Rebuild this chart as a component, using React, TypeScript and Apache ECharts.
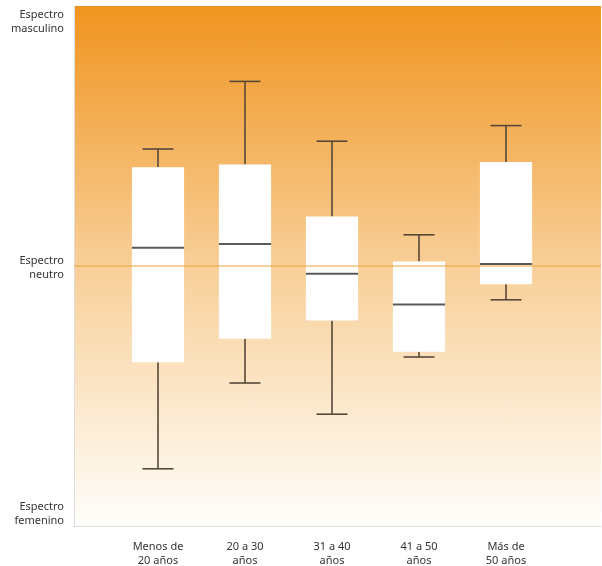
import React, { useEffect, useRef } from "react";
import * as echarts from "echarts";

const categories = ["Menos de\n20 años", "20 a 30\naños", "31 a 40\naños", "41 a 50\naños", "Más de\n50 años"];
// [min, Q1, median, Q3, max] on a -1 (femenino) .. 1 (masculino) scale
const lowValues = [-0.78, -0.45, -0.57, -0.35, -0.13];
const q1Values = [-0.37, -0.28, -0.21, -0.33, -0.07];
const medianValues = [0.07, 0.085, -0.03, -0.148, 0.008];
const q3Values = [0.38, 0.39, 0.19, 0.017, 0.4];
const highValues = [0.45, 0.71, 0.48, 0.12, 0.54];
const spectrumLabels: Record<string, string> = {
  "1": "Espectro\nmasculino",
  "0": "Espectro\nneutro",
  "-1": "Espectro\nfemenino",
};

export default function App() {
  const ref = useRef<HTMLDivElement>(null);
  useEffect(() => {
    if (!ref.current) return;
    const chart = echarts.init(ref.current, undefined, { renderer: "svg" });
    const data = categories.map((_, i) => [i, lowValues[i], q1Values[i], medianValues[i], q3Values[i], highValues[i]]);
    const font = "'Noto Sans', Lato, sans-serif";
    chart.setOption({
      animation: false,
      grid: [
        {
          left: 74, top: 6, right: 1, bottom: 40, show: true, borderWidth: 0,
          backgroundColor: new echarts.graphic.LinearGradient(0, 0, 0, 1, [
            { offset: 0, color: "#f0941f" },
            { offset: 0.5, color: "#f8cf98" },
            { offset: 1, color: "#fffefb" },
          ]),
        },
        { left: 114.5, top: 6, right: 52.5, bottom: 40 },
      ],
      xAxis: [
        {
          gridIndex: 0, type: "value", min: 0, max: 1,
          axisLine: { show: true, onZero: false, lineStyle: { color: "#dddddd", width: 1 } },
          axisTick: { show: false }, axisLabel: { show: false }, splitLine: { show: false },
        },
        {
          gridIndex: 1, type: "category", data: categories,
          axisLine: { show: false }, axisTick: { show: false }, splitLine: { show: false },
          axisLabel: { margin: 12, color: "#333333", fontSize: 11, lineHeight: 14, fontFamily: font },
        },
      ],
      yAxis: [
        {
          gridIndex: 0, type: "value", min: -1, max: 1, interval: 1,
          axisLine: { show: true, onZero: false, lineStyle: { color: "#dddddd", width: 1 } },
          axisTick: { show: false }, splitLine: { show: false },
          axisLabel: {
            formatter: (v: number) => spectrumLabels[String(v)] || "",
            color: "#333333", fontSize: 11, lineHeight: 14, fontFamily: font, margin: 10,
            verticalAlignMaxLabel: "top", verticalAlignMinLabel: "bottom",
          },
        },
        { gridIndex: 1, type: "value", min: -1, max: 1, show: false },
      ],
      series: [
        {
          type: "line", xAxisIndex: 0, yAxisIndex: 0, data: [[0, 0], [1, 0]],
          symbol: "none", silent: true,
          lineStyle: { color: "#f0a03a", width: 1 },
        },
        {
          type: "custom", xAxisIndex: 1, yAxisIndex: 1, data,
          encode: { x: 0, y: [1, 2, 3, 4, 5] },
          renderItem: (params: any, api: any) => {
            const idx = api.value(0);
            const pLow = api.coord([idx, api.value(1)]);
            const pQ1 = api.coord([idx, api.value(2)]);
            const pMed = api.coord([idx, api.value(3)]);
            const pQ3 = api.coord([idx, api.value(4)]);
            const pHigh = api.coord([idx, api.value(5)]);
            const band = api.size([1, 0])[0];
            const bw = band * 0.6;
            const cw = 31;
            const x = pMed[0];
            const ws = { stroke: "#574838", lineWidth: 1.6 };
            return {
              type: "group",
              children: [
                { type: "line", shape: { x1: x, y1: pHigh[1], x2: x, y2: pQ3[1] }, style: ws },
                { type: "line", shape: { x1: x - cw / 2, y1: pHigh[1], x2: x + cw / 2, y2: pHigh[1] }, style: ws },
                { type: "line", shape: { x1: x, y1: pLow[1], x2: x, y2: pQ1[1] }, style: ws },
                { type: "line", shape: { x1: x - cw / 2, y1: pLow[1], x2: x + cw / 2, y2: pLow[1] }, style: ws },
                { type: "rect", shape: { x: x - bw / 2, y: pQ3[1], width: bw, height: pQ1[1] - pQ3[1] }, style: { fill: "#ffffff" } },
                { type: "line", shape: { x1: x - bw / 2, y1: pMed[1], x2: x + bw / 2, y2: pMed[1] }, style: { stroke: "#5a5a5a", lineWidth: 2 } },
              ],
            };
          },
        },
      ],
    });
    return () => chart.dispose();
  }, []);
  return <div ref={ref} style={{ position: "fixed", left: 0, top: 0, width: 602, height: 566 }} />;
}
